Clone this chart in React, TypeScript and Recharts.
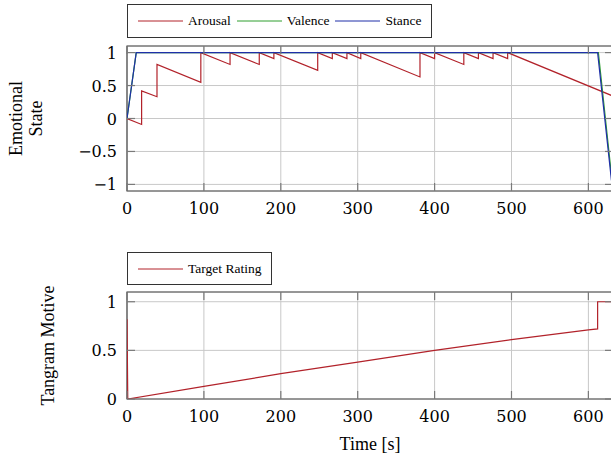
import { LineChart, Line, XAxis, YAxis, CartesianGrid, Legend, ReferenceArea } from 'recharts';

// axis ticks
const timeTicks = [0, 100, 200, 300, 400, 500, 600];
const emotionTicks = [-1, -0.5, 0, 0.5, 1];
const motiveTicks = [0, 0.5, 1];

// series (t in seconds)
const arousal = [
  { t: 0, v: 0 }, { t: 19, v: -0.09 }, { t: 19, v: 0.42 }, { t: 39, v: 0.33 },
  { t: 39, v: 0.82 }, { t: 96, v: 0.55 }, { t: 96, v: 1 }, { t: 134, v: 0.82 },
  { t: 134, v: 1 }, { t: 172, v: 0.82 }, { t: 172, v: 1 }, { t: 191, v: 0.91 },
  { t: 191, v: 1 }, { t: 248, v: 0.73 }, { t: 248, v: 1 }, { t: 267, v: 0.91 },
  { t: 267, v: 1 }, { t: 286, v: 0.91 }, { t: 286, v: 1 }, { t: 304, v: 0.91 },
  { t: 304, v: 1 }, { t: 381, v: 0.63 }, { t: 381, v: 1 }, { t: 400, v: 0.91 },
  { t: 400, v: 1 }, { t: 438, v: 0.82 }, { t: 438, v: 1 }, { t: 457, v: 0.91 },
  { t: 457, v: 1 }, { t: 476, v: 0.91 }, { t: 476, v: 1 }, { t: 495, v: 0.91 },
  { t: 495, v: 1 }, { t: 632, v: 0.34 },
];
const valence = [{ t: 0, v: 0 }, { t: 12, v: 1 }, { t: 613, v: 1 }, { t: 630, v: -0.86 }];
const stance = [{ t: 0, v: 0 }, { t: 12, v: 1 }, { t: 612, v: 1 }, { t: 630, v: -0.94 }];
const targetRating = [
  { t: 0, v: 0.82 }, { t: 1, v: 0 }, { t: 100, v: 0.13 }, { t: 200, v: 0.26 },
  { t: 300, v: 0.38 }, { t: 400, v: 0.5 }, { t: 500, v: 0.61 }, { t: 600, v: 0.71 },
  { t: 612, v: 0.72 }, { t: 612, v: 1 }, { t: 632, v: 1 },
];

const RED = '#b2222a';
const GREEN = '#2e9e2e';
const BLUE = '#1f2fa8';

const PLOT_LEFT = 127;
const PLOT_RIGHT = 613;
const TICK_LEN = 8;
const TICK_FONT = 'DejaVu Serif';
const TEXT_FONT = 'Liberation Serif';

const fmt = (v: number) => (v < 0 ? '\u2212' + Math.abs(v) : String(v));

const makeXTick = (plotHeight: number) => (props: any) => {
  const { x, y, payload } = props;
  return (
    <g>
      <line x1={x} x2={x} y1={y} y2={y - TICK_LEN} stroke="#7a7a7a" strokeWidth={1.2} />
      <line x1={x} x2={x} y1={y - plotHeight} y2={y - plotHeight + TICK_LEN} stroke="#7a7a7a" strokeWidth={1.2} />
      <text x={x} y={y + 22.5} textAnchor="middle" fontFamily={TICK_FONT} fontSize={16} fill="#000">
        {fmt(payload.value)}
      </text>
    </g>
  );
};

const YTick = (props: any) => {
  const { y, payload } = props;
  return (
    <g>
      <line x1={PLOT_LEFT} x2={PLOT_LEFT + TICK_LEN} y1={y} y2={y} stroke="#7a7a7a" strokeWidth={1.2} />
      <line x1={PLOT_RIGHT} x2={PLOT_RIGHT - TICK_LEN} y1={y} y2={y} stroke="#7a7a7a" strokeWidth={1.2} />
      <text x={PLOT_LEFT - 10} y={y + 6} textAnchor="end" fontFamily={TICK_FONT} fontSize={16} fill="#000">
        {fmt(payload.value)}
      </text>
    </g>
  );
};

const order = ['Arousal', 'Valence', 'Stance', 'Target Rating'];

function BoxLegend({ payload, height }: any) {
  const items = [...(payload || [])].sort((a, b) => order.indexOf(a.value) - order.indexOf(b.value));
  return (
    <div
      style={{
        display: 'inline-flex',
        alignItems: 'center',
        height,
        boxSizing: 'border-box',
        border: '1px solid #333',
        background: '#fff',
        padding: '0 10px',
      }}
    >
      {items.map((e: any, i: number) => (
        <span key={e.value} style={{ display: 'inline-flex', alignItems: 'center', marginLeft: i ? 6 : 0 }}>
          <svg width={45} height={4} style={{ display: 'block' }}>
            <line x1={0} x2={45} y1={2} y2={2} stroke={e.color} strokeWidth={1} />
          </svg>
          <span style={{ marginLeft: 5, fontFamily: TEXT_FONT, fontSize: 13.5, lineHeight: 1, color: '#000' }}>
            {e.value}
          </span>
        </span>
      ))}
    </div>
  );
}

const EmotionLabel = (props: any) => {
  const cy = props.viewBox ? props.viewBox.y + props.viewBox.height / 2 : 118.5;
  return (
    <g fontFamily={TEXT_FONT} fontSize={18} fill="#000">
      <text x={22} y={cy} textAnchor="middle" transform={`rotate(-90, 22, ${cy})`}>Emotional</text>
      <text x={42} y={cy} textAnchor="middle" transform={`rotate(-90, 42, ${cy})`}>State</text>
    </g>
  );
};

const MotiveLabel = (props: any) => {
  const cy = props.viewBox ? props.viewBox.y + props.viewBox.height / 2 : 105.5;
  return (
    <text x={54} y={cy} textAnchor="middle" transform={`rotate(-90, 54, ${cy})`} fontFamily={TEXT_FONT} fontSize={18} fill="#000">
      Tangram Motive
    </text>
  );
};

const TimeLabel = (props: any) => {
  const vb = props.viewBox || { x: 127, y: 159, width: 486 };
  return (
    <text x={vb.x + vb.width / 2} y={vb.y + 51} textAnchor="middle" fontFamily={TEXT_FONT} fontSize={18} fill="#000">
      Time [s]
    </text>
  );
};

export default function App() {
  return (
    <div style={{ position: 'absolute', left: 0, top: 0, width: 611, height: 459, overflow: 'hidden', background: '#fff' }}>
      <div style={{ position: 'absolute', left: 0, top: 0 }}>
        <LineChart width={630} height={240} margin={{ top: 46, right: 17, bottom: 0, left: 0 }}>
          <CartesianGrid stroke="#c8c8c8" strokeWidth={1} />
          <XAxis
            dataKey="t"
            type="number"
            domain={[0, 632]}
            ticks={timeTicks}
            interval={0}
            allowDataOverflow
            height={49}
            tickSize={0}
            tickMargin={0}
            axisLine={false}
            tickLine={false}
            tick={makeXTick(145)}
          />
          <YAxis
            type="number"
            domain={[-1.1, 1.1]}
            ticks={emotionTicks}
            interval={0}
            allowDataOverflow
            width={127}
            tickSize={0}
            tickMargin={0}
            axisLine={false}
            tickLine={false}
            tick={YTick}
            label={<EmotionLabel />}
          />
          <ReferenceArea x1={0} x2={632} y1={-1.1} y2={1.1} fill="none" stroke="#4a4a4a" strokeWidth={1.2} />
          <Legend
            layout="horizontal"
            verticalAlign="middle"
            align="center"
            wrapperStyle={{ top: 4, left: 127, width: 'auto', height: 'auto' }}
            content={(p: any) => <BoxLegend payload={p.payload} height={34} />}
          />
          <Line data={arousal} dataKey="v" name="Arousal" type="linear" stroke={RED} strokeWidth={1.2} dot={false} isAnimationActive={false} />
          <Line data={valence} dataKey="v" name="Valence" type="linear" stroke={GREEN} strokeWidth={1.2} dot={false} isAnimationActive={false} />
          <Line data={stance} dataKey="v" name="Stance" type="linear" stroke={BLUE} strokeWidth={1.2} dot={false} isAnimationActive={false} />
        </LineChart>
      </div>
      <div style={{ position: 'absolute', left: 0, top: 240 }}>
        <LineChart width={630} height={219} margin={{ top: 52, right: 17, bottom: 0, left: 0 }}>
          <CartesianGrid stroke="#c8c8c8" strokeWidth={1} />
          <XAxis
            dataKey="t"
            type="number"
            domain={[0, 632]}
            ticks={timeTicks}
            interval={0}
            allowDataOverflow
            height={60}
            tickSize={0}
            tickMargin={0}
            axisLine={false}
            tickLine={false}
            tick={makeXTick(107)}
            label={<TimeLabel />}
          />
          <YAxis
            type="number"
            domain={[0, 1.1]}
            ticks={motiveTicks}
            interval={0}
            allowDataOverflow
            width={127}
            tickSize={0}
            tickMargin={0}
            axisLine={false}
            tickLine={false}
            tick={YTick}
            label={<MotiveLabel />}
          />
          <ReferenceArea x1={0} x2={632} y1={0} y2={1.1} fill="none" stroke="#4a4a4a" strokeWidth={1.2} />
          <Legend
            layout="horizontal"
            verticalAlign="middle"
            align="center"
            wrapperStyle={{ top: 12, left: 127, width: 'auto', height: 'auto' }}
            content={(p: any) => <BoxLegend payload={p.payload} height={33} />}
          />
          <Line data={targetRating} dataKey="v" name="Target Rating" type="linear" stroke={RED} strokeWidth={1.2} dot={false} isAnimationActive={false} />
        </LineChart>
      </div>
    </div>
  );
}
